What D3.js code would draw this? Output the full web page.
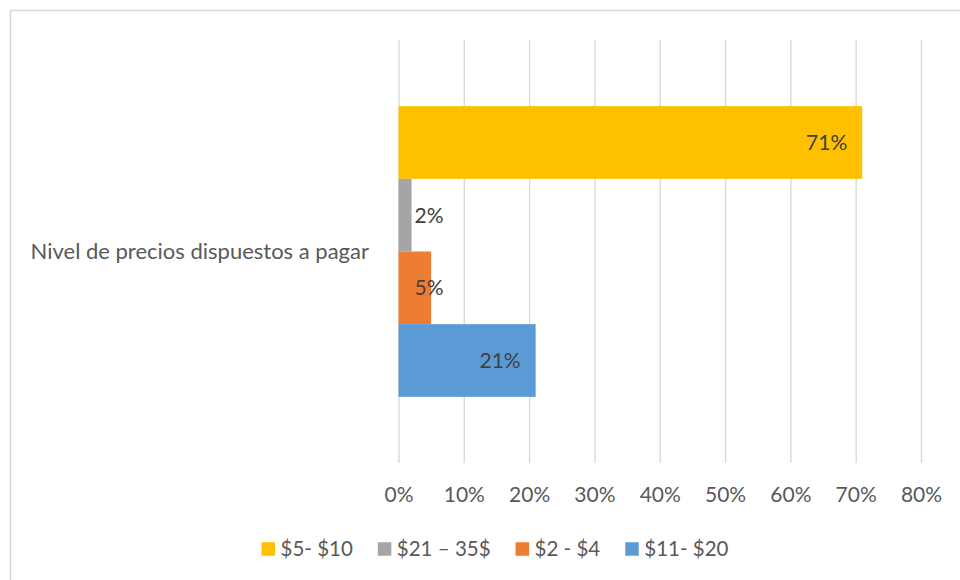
<!DOCTYPE html>
<html>
<head>
<meta charset="utf-8">
<script src="https://cdn.jsdelivr.net/npm/d3@7"></script>
<style>
  body { margin: 0; background: #fff; }
  svg { display: block; }
  text { font-family: Lato, "Open Sans", sans-serif; }
</style>
</head>
<body>
<svg id="chart" width="960" height="580"></svg>
<script>
// Data
const categories = ["Nivel de precios dispuestos a pagar"];
const seriesNames = ["$5- $10", "$21 – 35$", "$2 - $4", "$11- $20"];
const seriesValues = [0.71, 0.02, 0.05, 0.21];
const tickValues = [0, 0.1, 0.2, 0.3, 0.4, 0.5, 0.6, 0.7, 0.8];

const rows = seriesNames.map((name, i) => ({ name, value: seriesValues[i], category: categories[0] }));

// Layout
const plot = { left: 398.5, right: 921, top: 40, bottom: 463 };
const fontSize = 21;
const axisColor = "#595959";
const labelColor = "#404040";
const gridColor = "#d9d9d9";

const svg = d3.select("#chart");
const fmt = d3.format(".0%");

const color = d3.scaleOrdinal()
  .domain(seriesNames)
  .range(["#FFC000", "#A5A5A5", "#ED7D31", "#5B9BD5"]);

const x = d3.scaleLinear().domain([0, 0.8]).range([plot.left, plot.right]);
const y0 = d3.scaleBand().domain(categories).range([plot.top, plot.bottom]).paddingOuter(0.2276).paddingInner(0);
const y1 = d3.scaleBand().domain(seriesNames).range([0, y0.bandwidth()]).padding(0);

// Chart frame
svg.append("rect")
  .attr("x", 10.5).attr("y", 10.5)
  .attr("width", 985).attr("height", 600)
  .attr("fill", "#fff")
  .attr("stroke", gridColor)
  .attr("stroke-width", 1.5);

// Vertical gridlines + percentage ticks
const xAxis = svg.append("g")
  .attr("transform", `translate(0,${plot.bottom})`)
  .call(d3.axisBottom(x)
    .tickValues(tickValues)
    .tickFormat(fmt)
    .tickSize(-(plot.bottom - plot.top))
    .tickPadding(24));
xAxis.select(".domain").remove();
xAxis.selectAll(".tick line")
  .attr("stroke", gridColor)
  .attr("stroke-width", 1.4);
xAxis.selectAll(".tick text")
  .attr("fill", axisColor)
  .style("font-size", fontSize + "px")
  .style("font-family", "Lato, 'Open Sans', sans-serif");

// Category label
svg.append("g").selectAll("text")
  .data(categories)
  .join("text")
  .attr("x", 369)
  .attr("y", d => y0(d) + y0.bandwidth() / 2)
  .attr("dy", "0.35em")
  .attr("text-anchor", "end")
  .attr("fill", axisColor)
  .style("font-size", "22px")
  .text(d => d);

// Bars
const group = svg.append("g").selectAll("g")
  .data(categories)
  .join("g")
  .attr("transform", d => `translate(0,${y0(d)})`);

group.selectAll("rect")
  .data(c => rows.filter(r => r.category === c))
  .join("rect")
  .attr("x", x(0))
  .attr("y", d => y1(d.name))
  .attr("width", d => x(d.value) - x(0))
  .attr("height", y1.bandwidth())
  .attr("fill", d => color(d.name));

// Value labels: inside the bar end, pushed right of the axis when the bar is short
group.selectAll("text.value")
  .data(c => rows.filter(r => r.category === c))
  .join("text")
  .attr("class", "value")
  .attr("y", d => y1(d.name) + y1.bandwidth() / 2)
  .attr("dy", "0.35em")
  .attr("fill", labelColor)
  .style("font-size", fontSize + "px")
  .text(d => fmt(d.value))
  .each(function (d) {
    const w = this.getComputedTextLength();
    let end = x(d.value) - 15;
    if (end - w < x(0) + 16) end = x(0) + 16 + w;
    d3.select(this).attr("x", end).attr("text-anchor", "end");
  });

// Legend, centred below the axis
const legend = svg.append("g");
const items = legend.selectAll("g")
  .data(seriesNames)
  .join("g");
const sw = 13.5, gapText = 5.5, gapItem = 25, legendY = 549;
items.append("rect")
  .attr("width", sw).attr("height", sw)
  .attr("y", legendY - sw / 2)
  .attr("fill", d => color(d));
items.append("text")
  .attr("x", sw + gapText)
  .attr("y", legendY)
  .attr("dy", "0.35em")
  .attr("fill", axisColor)
  .style("font-size", "20.5px")
  .text(d => d);
const widths = [];
items.each(function () {
  const w = sw + gapText + d3.select(this).select("text").node().getComputedTextLength();
  widths.push(w);
});
const total = d3.sum(widths) + gapItem * (widths.length - 1);
let start = 495 - total / 2;
items.attr("transform", (d, i) => {
  const t = `translate(${start},0)`;
  start += widths[i] + gapItem;
  return t;
});
</script>
</body>
</html>
